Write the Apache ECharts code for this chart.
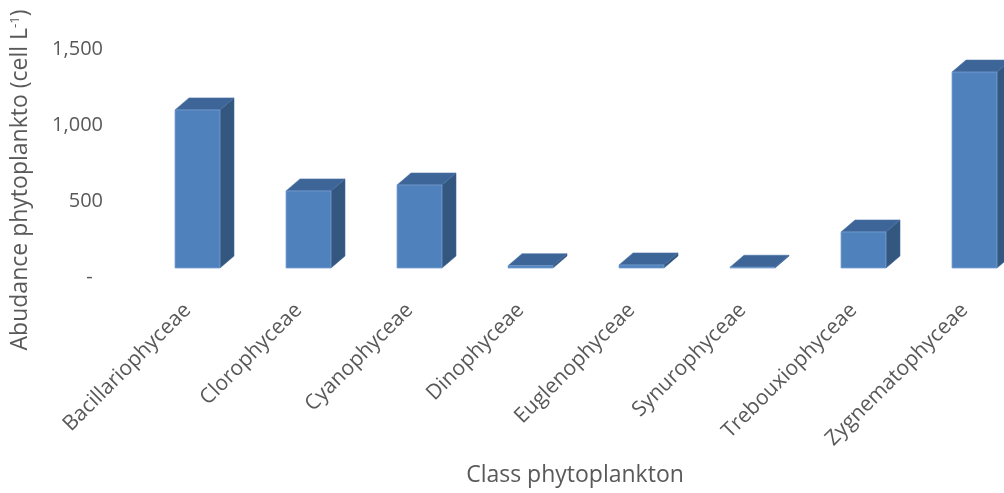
<!DOCTYPE html>
<html>
<head>
<meta charset="utf-8">
<title>Abundance of phytoplankton by class</title>
<script src="https://cdn.jsdelivr.net/npm/echarts@6/dist/echarts.min.js"></script>
<style>
  html, body { margin: 0; padding: 0; background: #ffffff; }
  #chart { width: 1004px; height: 493px; }
</style>
</head>
<body>
<div id="chart"></div>
<script>
// Phytoplankton classes and their abundance (cell L-1)
const categories = [
  'Bacillariophyceae', 'Clorophyceae', 'Cyanophyceae', 'Dinophyceae',
  'Euglenophyceae', 'Synurophyceae', 'Trebouxiophyceae', 'Zygnematophyceae'
];
const abundance = [1040, 507, 546, 15, 20, 5, 237, 1289];
const yTicks = [0, 500, 1000, 1500];

const FONT = '"Open Sans", "Liberation Sans", sans-serif';
const TEXT = '#595959';

// Oblique projection of each column: front face, darker top and side faces
const FACE_RATIO = 0.405;   // front face width as a share of the category band
const DEPTH_X = 14;          // horizontal shift from front to back edge
const DEPTH_Y = 12;          // vertical shift from front to back edge
const FLOOR_LIFT = 9;        // columns stand a little behind the front of the floor

function renderColumn(params, api) {
  const idx = api.value(0);
  const val = api.value(1);
  const base = api.coord([idx, 0]);
  const top = api.coord([idx, val]);
  const band = api.size([1, 0])[0];
  const w = band * FACE_RATIO;
  const x0 = base[0] - w / 2;
  const x1 = base[0] + w / 2;
  const yb = base[1] - FLOOR_LIFT;
  const yt = top[1] - FLOOR_LIFT;

  const side = [[x1, yb], [x1 + DEPTH_X, yb - DEPTH_Y], [x1 + DEPTH_X, yt - DEPTH_Y], [x1, yt]];
  const lid = [[x0, yt], [x1, yt], [x1 + DEPTH_X, yt - DEPTH_Y], [x0 + DEPTH_X, yt - DEPTH_Y]];

  return {
    type: 'group',
    children: [
      { type: 'polygon', shape: { points: side },
        style: { fill: '#34577f', stroke: '#3a6190', lineWidth: 0.6 } },
      { type: 'polygon', shape: { points: lid },
        style: { fill: '#3e6597', stroke: '#4a72a6', lineWidth: 0.6 } },
      { type: 'rect', shape: { x: x0, y: yt, width: w, height: Math.max(yb - yt, 0.8) },
        style: { fill: '#4f81bd', stroke: '#7aa0d0', lineWidth: 0.8 } }
    ]
  };
}

const chart = echarts.init(document.getElementById('chart'), null, { renderer: 'canvas' });

chart.setOption({
  animation: false,
  backgroundColor: '#ffffff',
  grid: {
    left: 142, top: 49, right: -26, bottom: 216,
    containLabel: false,
    outerBoundsMode: 'none'
  },
  xAxis: {
    type: 'category',
    data: categories,
    axisLine: { show: false },
    axisTick: { show: false },
    splitLine: { show: false },
    axisLabel: {
      interval: 0,
      rotate: 45,
      margin: 20,
      padding: [0, 14, 0, 0],
      color: TEXT,
      fontFamily: FONT,
      fontSize: 21
    },
    name: 'Class phytoplankton',
    nameLocation: 'middle',
    nameGap: 187,
    nameTextStyle: { color: TEXT, fontFamily: FONT, fontSize: 23, padding: [0, 22, 0, 0] }
  },
  yAxis: {
    type: 'value',
    min: yTicks[0],
    max: yTicks[yTicks.length - 1],
    interval: 500,
    axisLine: { show: false },
    axisTick: { show: false },
    splitLine: { show: false },
    axisLabel: {
      margin: 39,
      color: TEXT,
      fontFamily: FONT,
      fontSize: 20,
      formatter: function (v) {
        return v === 0 ? '-  ' : v.toLocaleString('en-US');
      }
    },
    name: '{t|Abudance phytoplankto (cell L}{s|-1}{t|)}',
    nameLocation: 'middle',
    nameGap: 110,
    nameRotate: 90,
    nameTextStyle: {
      rich: {
        t: { color: TEXT, fontFamily: FONT, fontSize: 23 },
        s: { color: TEXT, fontFamily: FONT, fontSize: 13, verticalAlign: 'top', padding: [0, 0, 10, 0] }
      },
      padding: [0, 34, 0, 0]
    }
  },
  series: [{
    type: 'custom',
    renderItem: renderColumn,
    clip: false,
    encode: { x: 0, y: 1 },
    data: abundance.map(function (v, i) { return [i, v]; })
  }]
});
</script>
</body>
</html>
